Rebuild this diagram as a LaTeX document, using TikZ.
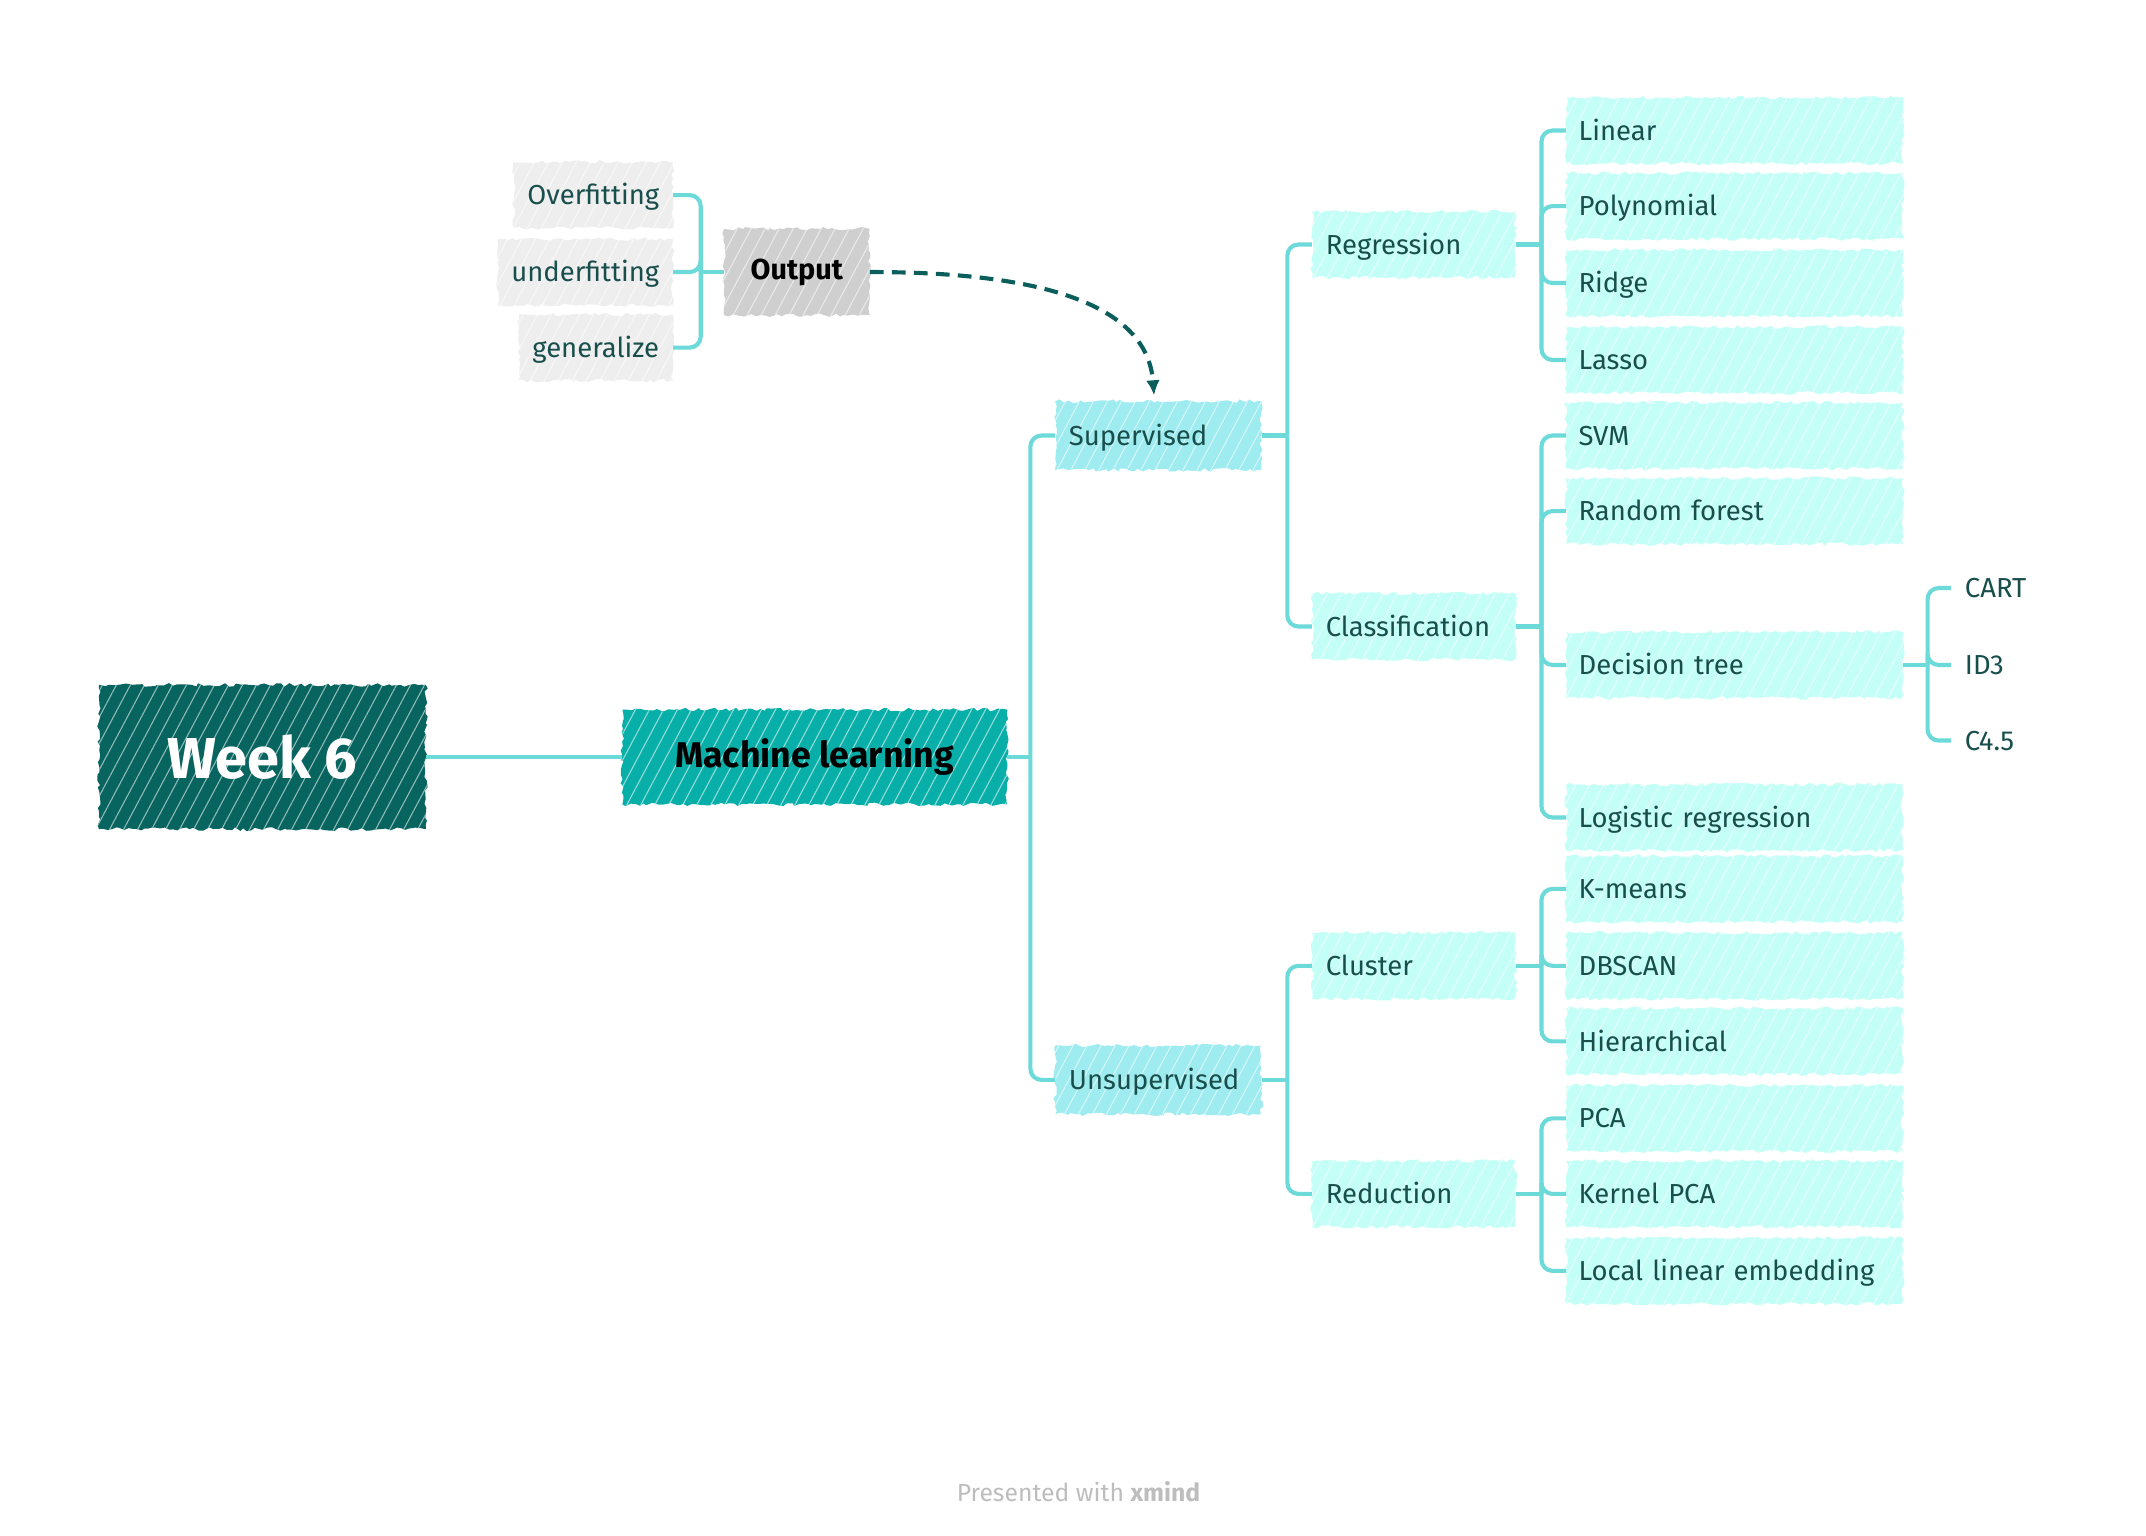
\documentclass[tikz,border=0pt]{standalone}
\usepackage{fontspec}
\setmainfont{Fira Sans}
\usetikzlibrary{patterns.meta,decorations.pathmorphing,arrows.meta}
\definecolor{wk}{HTML}{07645F}
\definecolor{ml}{HTML}{08AFA9}
\definecolor{lone}{HTML}{9EEBF0}
\definecolor{ltwo}{HTML}{C4FFF7}
\definecolor{og}{HTML}{CFCFCF}
\definecolor{lg}{HTML}{EEEEEE}
\definecolor{ln}{HTML}{6CDAD8}
\definecolor{tx}{HTML}{184E4C}
\definecolor{ar}{HTML}{0B5E5B}
\definecolor{ft}{HTML}{BDBDBD}
\newcommand\myfs[1]{\fontsize{#1}{#1}\selectfont}
\tikzset{
  sk/.style={preaction={fill=#1}, pattern={Lines[angle=62,distance=9pt,line width=0.8pt]},
    pattern color=white!55!#1, decorate,
    decoration={random steps,segment length=3pt,amplitude=1.3pt}},
  wkbox/.style={sk=wk, minimum width=238pt, minimum height=105pt, inner sep=0pt,
    font=\myfs{42}\bfseries, text=white},
  mlbox/.style={sk=ml, minimum width=280pt, minimum height=69pt, inner sep=0pt,
    font=\myfs{26}\bfseries, text=black},
  outbox/.style={sk=og, minimum width=106pt, minimum height=63pt, inner sep=0pt,
    font=\myfs{21}\bfseries, text=black},
  gbox/.style={sk=lg, anchor=east, minimum height=48pt, inner xsep=10pt, inner ysep=0pt,
    text height=14pt, text depth=0pt, font=\myfs{20}, text=tx},
  onebox/.style={sk=lone, minimum width=150pt, minimum height=50pt, text width=130pt,
    align=left, inner xsep=10pt, inner ysep=0pt, text height=14pt, text depth=0pt,
    font=\myfs{20}, text=tx},
  twobox/.style={sk=ltwo, minimum width=148pt, minimum height=48pt, text width=128pt,
    align=left, inner xsep=10pt, inner ysep=0pt, text height=14pt, text depth=0pt,
    font=\myfs{20}, text=tx},
  leaf/.style={sk=ltwo, minimum width=245pt, minimum height=48pt, text width=227pt,
    align=left, inner xsep=9pt, inner ysep=0pt, text height=14pt, text depth=0pt,
    font=\myfs{20}, text=tx},
  plain/.style={anchor=west, inner xsep=10pt, inner ysep=0pt, text height=14pt,
    text depth=0pt, font=\myfs{20}, text=tx},
  cn/.style={draw=ln, line width=3pt, rounded corners=8pt},
  dasharrow/.style={draw=ar, line width=3pt, dash pattern=on 10pt off 6pt,
    -{Latex[length=11pt,width=10pt]}}
}
\begin{document}
\pgfmathsetseed{7}
\begin{tikzpicture}[x=1pt,y=-1pt]
\useasboundingbox (0,0) rectangle (1562,1118);
% main nodes
\node[wkbox] (wk) at (191,551) {Week 6};
\node[mlbox] (ml) at (593,551) {Machine learning};
\node[outbox] (out) at (580,198) {Output};
\node[gbox] (ovf) at (490,142) {Overfitting};
\node[gbox] (udf) at (490,198) {underfitting};
\node[gbox] (gen) at (490,253) {generalize};
\node[onebox] (sup) at (843,317) {Supervised};
\node[onebox] (uns) at (843,786) {Unsupervised};
\node[twobox] (reg) at (1029,178) {Regression};
\node[twobox] (cls) at (1029,456) {Classification};
\node[twobox] (clu) at (1029,703) {Cluster};
\node[twobox] (red) at (1029,869) {Reduction};
\node[leaf] (lin) at (1262.5,95) {Linear};
\node[leaf] (pol) at (1262.5,150) {Polynomial};
\node[leaf] (rid) at (1262.5,206) {Ridge};
\node[leaf] (las) at (1262.5,262) {Lasso};
\node[leaf] (svm) at (1262.5,317) {SVM};
\node[leaf] (rf) at (1262.5,372) {Random forest};
\node[leaf] (dt) at (1262.5,484) {Decision tree};
\node[leaf] (lr) at (1262.5,595) {Logistic regression};
\node[leaf] (km) at (1262.5,647) {K-means};
\node[leaf] (dbs) at (1262.5,703) {DBSCAN};
\node[leaf] (hie) at (1262.5,758) {Hierarchical};
\node[leaf] (pca) at (1262.5,814) {PCA};
\node[leaf] (kpca) at (1262.5,869) {Kernel PCA};
\node[leaf] (lle) at (1262.5,925) {Local linear embedding};
\node[plain] (cart) at (1420,428) {CART};
\node[plain] (id3) at (1420,484) {ID3};
\node[plain] (c45) at (1420,539) {C4.5};
\node[font=\myfs{18}, text=ft] (foot) at (785,1086) {Presented with \textbf{xmind}};
% junctions
\coordinate (jml) at (750,551);
\coordinate (jsup) at (937,317);
\coordinate (juns) at (937,786);
\coordinate (jreg) at (1122,178);
\coordinate (jcls) at (1122,456);
\coordinate (jclu) at (1122,703);
\coordinate (jred) at (1122,869);
\coordinate (jdt) at (1403,484);
\coordinate (jout) at (510,198);
% connectors
\draw[cn] (wk.east) -- (ml.west);
\draw[cn] (ml.east) -- (jml);
\draw[cn] (jml) |- (sup.west);
\draw[cn] (jml) |- (uns.west);
\draw[cn] (sup.east) -- (jsup);
\draw[cn] (jsup) |- (reg.west);
\draw[cn] (jsup) |- (cls.west);
\draw[cn] (uns.east) -- (juns);
\draw[cn] (juns) |- (clu.west);
\draw[cn] (juns) |- (red.west);
\draw[cn] (reg.east) -- (jreg);
\draw[cn] (jreg) |- (lin.west);
\draw[cn] (jreg) |- (pol.west);
\draw[cn] (jreg) |- (rid.west);
\draw[cn] (jreg) |- (las.west);
\draw[cn] (cls.east) -- (jcls);
\draw[cn] (jcls) |- (svm.west);
\draw[cn] (jcls) |- (rf.west);
\draw[cn] (jcls) |- (dt.west);
\draw[cn] (jcls) |- (lr.west);
\draw[cn] (clu.east) -- (jclu);
\draw[cn] (jclu) |- (km.west);
\draw[cn] (jclu) |- (dbs.west);
\draw[cn] (jclu) |- (hie.west);
\draw[cn] (red.east) -- (jred);
\draw[cn] (jred) |- (pca.west);
\draw[cn] (jred) |- (kpca.west);
\draw[cn] (jred) |- (lle.west);
\draw[cn] (dt.east) -- (jdt);
\draw[cn] (jdt) |- (cart.west);
\draw[cn] (jdt) |- (id3.west);
\draw[cn] (jdt) |- (c45.west);
\draw[cn] (out.west) -- (jout);
\draw[cn] (jout) |- (ovf.east);
\draw[cn] (jout) |- (udf.east);
\draw[cn] (jout) |- (gen.east);
% dashed relation
\draw[dasharrow] (out.east) .. controls (760,198) and (835,222) .. ([xshift=-3pt,yshift=4pt]sup.north);
\end{tikzpicture}
\end{document}
